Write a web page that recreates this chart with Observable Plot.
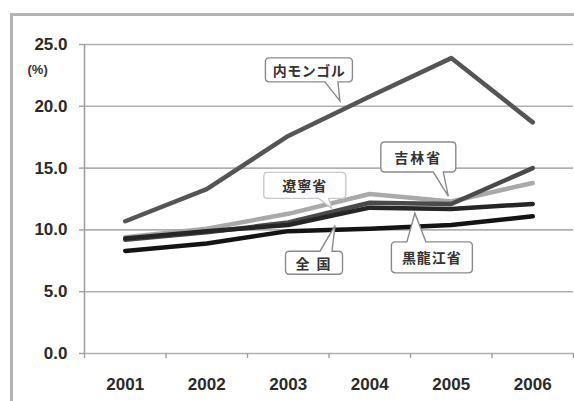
<!DOCTYPE html>
<html>
<head>
<meta charset="utf-8">
<script src="https://cdn.jsdelivr.net/npm/d3@7"></script>
<script src="https://cdn.jsdelivr.net/npm/@observablehq/plot@0.6"></script>
<style>
  body { margin: 0; background: #fff; }
  #wrap { position: relative; width: 574px; height: 401px; overflow: hidden; }
  #frame { position: absolute; left: 10px; top: 13px; width: 600px; height: 420px;
           border-top: 3px solid #b3b3b3; border-left: 3px solid #b3b3b3; pointer-events: none; }
</style>
</head>
<body>
<div id="wrap"></div>
<script>
// ---- data ----
const years = [2001, 2002, 2003, 2004, 2005, 2006];
const seriesNames = ["遼寧省", "吉林省", "黒龍江省", "全国", "内モンゴル"];
const liaoning      = [9.4, 10.1, 11.3, 12.9, 12.3, 13.8];
const jilin         = [9.2, 9.8, 10.6, 12.2, 12.1, 15.0];
const heilongjiang  = [9.3, 9.9, 10.4, 11.8, 11.7, 12.1];
const national      = [8.3, 8.9, 9.9, 10.1, 10.4, 11.1];
const innerMongolia = [10.7, 13.3, 17.6, 20.8, 23.9, 18.7];
const yTicks = [0, 5, 10, 15, 20, 25];
const yUnit = "(%)";

const seriesValues = [liaoning, jilin, heilongjiang, national, innerMongolia];
const rows = seriesNames.flatMap((name, s) =>
  years.map((year, i) => ({series: name, year, value: seriesValues[s][i]})));

// ---- styling / annotation layout ----
const seriesColors = ["#a9a9a9", "#4a4a4a", "#262626", "#141414", "#555555"];
const halfYears = [...years.map(y => y - 0.5), years[years.length - 1] + 0.5];
const xDomain = [years[0] - 0.5, years[years.length - 1] + 0.5];

// callouts: text, anchor in data units (tip of pointer), box offset from tip (px), size, tail base
const callouts = [
  {text: "内モンゴル", year: 2003.64, value: 20.4, dx: -31, dy: -31, w: 87, h: 24, b: [16, 29], stroke: "#8a8a8a", ls: 0.5},
  {text: "吉林省",     year: 2004.97, value: 12.7, dx: -30, dy: -39, w: 75, h: 30, b: [15, 25], stroke: "#8a8a8a", ls: 2},
  {text: "遼寧省",     year: 2003.54, value: 11.7, dx: -27, dy: -23, w: 82, h: 26, b: [14, 24], stroke: "#c8c8c8", ls: 1},
  {text: "全 国",      year: 2003.58, value: 10.3, dx: -21, dy: 37, w: 57, h: 23, b: [6, 18], stroke: "#8a8a8a", ls: 2},
  {text: "黒龍江省",   year: 2004.56, value: 11.3, dx: 17, dy: 44, w: 81, h: 31, b: [-25, -6], stroke: "#8a8a8a", ls: 1}
];

function calloutPath(cx, cy, w, h, tx, ty, b1, b2, r) {
  const L = cx - w / 2, R = cx + w / 2, T = cy - h / 2, B = cy + h / 2;
  const side = ty > B ? "bottom" : "top";
  let p = `M${L + r},${T}`;
  if (side === "top") p += `L${cx + b1},${T}L${tx},${ty}L${cx + b2},${T}`;
  p += `L${R - r},${T}Q${R},${T} ${R},${T + r}L${R},${B - r}Q${R},${B} ${R - r},${B}`;
  if (side === "bottom") p += `L${cx + b2},${B}L${tx},${ty}L${cx + b1},${B}`;
  p += `L${L + r},${B}Q${L},${B} ${L},${B - r}L${L},${T + r}Q${L},${T} ${L + r},${T}Z`;
  return p;
}

function calloutMark(index, scales) {
  const g = d3.create("svg:g");
  for (const c of callouts) {
    const tx = scales.x(c.year), ty = scales.y(c.value);
    const cx = tx + c.dx, cy = ty + c.dy;
    g.append("path")
      .attr("d", calloutPath(cx, cy, c.w, c.h, tx, ty, c.b[0], c.b[1], 4))
      .attr("fill", "#fff")
      .attr("stroke", c.stroke)
      .attr("stroke-width", 1.4);
    g.append("text")
      .attr("x", cx).attr("y", cy)
      .attr("text-anchor", "middle")
      .attr("dominant-baseline", "central")
      .attr("font-family", "'Noto Sans CJK JP', sans-serif")
      .attr("font-size", 14)
      .attr("font-weight", 700)
      .attr("letter-spacing", c.ls)
      .attr("fill", "#333")
      .text(c.text);
  }
  return g.node();
}

const chart = Plot.plot({
  width: 574,
  height: 401,
  marginLeft: 84,
  marginRight: 1,
  marginTop: 44,
  marginBottom: 48,
  style: {fontFamily: "'Liberation Sans', Arial, sans-serif", fontSize: "17px", fontWeight: "bold", color: "#2a2a2a", background: "transparent", overflow: "visible"},
  x: {domain: xDomain, ticks: years, tickFormat: d => String(d), tickSize: 0, tickPadding: 24, label: null},
  y: {domain: [0, 25], ticks: yTicks, tickFormat: d3.format(".1f"), tickSize: 0, tickPadding: 17, label: null},
  color: {domain: seriesNames, range: seriesColors},
  marks: [
    Plot.ruleY(yTicks, {stroke: "#b0b0b0", strokeWidth: 1.6}),
    Plot.ruleY(yTicks, {x1: xDomain[0], x2: xDomain[0], insetLeft: -5, stroke: "#a0a0a0", strokeWidth: 1.4}),
    Plot.ruleX([xDomain[0]], {stroke: "#a0a0a0", strokeWidth: 1.6}),
    Plot.ruleX(halfYears, {y1: 0, y2: 0, insetBottom: -5, stroke: "#a0a0a0", strokeWidth: 1.4}),
    Plot.line(rows, {x: "year", y: "value", z: "series", stroke: "series", strokeWidth: 4.5, strokeLinejoin: "round", strokeLinecap: "round"}),
    calloutMark,
    Plot.text([yUnit], {frameAnchor: "top-left", text: d => d, dx: -57, dy: 20, fontSize: 13, fontWeight: "bold", fill: "#333"})
  ]
});

const wrap = document.getElementById("wrap");
wrap.appendChild(chart);
const frame = document.createElement("div");
frame.id = "frame";
wrap.appendChild(frame);
</script>
</body>
</html>
